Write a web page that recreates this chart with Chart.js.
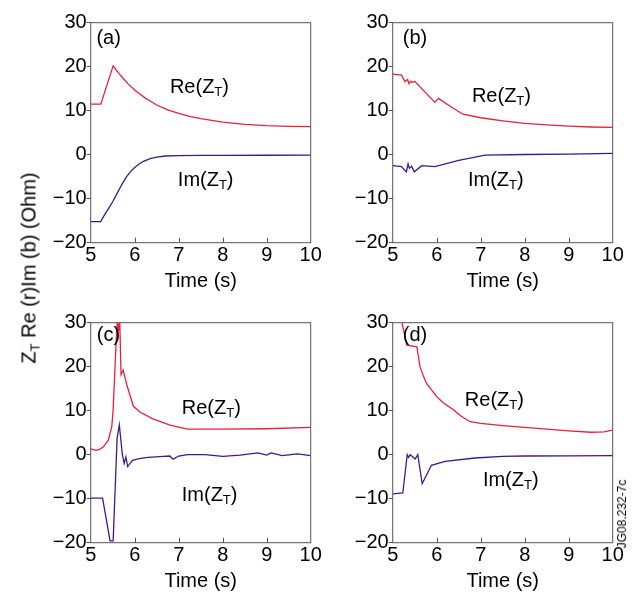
<!DOCTYPE html>
<html>
<head>
<meta charset="utf-8">
<script src="https://cdn.jsdelivr.net/npm/chart.js@4/dist/chart.umd.min.js"></script>
<style>
  html, body { margin: 0; padding: 0; background: #fff; }
  #wrap { position: relative; width: 641px; height: 599px; overflow: hidden; font-family: "Liberation Sans", Arial, sans-serif; color: #000; }
  #wrap canvas { position: absolute; left: 0; top: 0; }
  .ytitle { position: absolute; left: 29px; top: 268px; font-size: 20px; white-space: nowrap; transform: translate(-50%, -50%) rotate(-90deg); }
  .ytitle sub { font-size: 13px; vertical-align: -4px; line-height: 0; }
  .stamp { position: absolute; left: 622px; top: 514px; font-size: 12px; white-space: nowrap; transform: translate(-50%, -50%) rotate(-90deg); }
</style>
</head>
<body>
<div id="wrap">
  <canvas id="pa" width="641" height="599"></canvas>
  <canvas id="pb" width="641" height="599"></canvas>
  <canvas id="pc" width="641" height="599"></canvas>
  <canvas id="pd" width="641" height="599"></canvas>
  <div class="ytitle">Z<sub>T</sub> Re (r)Im (b) (Ohm)</div>
  <div class="stamp">JG08.232-7c</div>
</div>
<script>
// valeurs (temps en s, impedance en Ohm)
const xTicks = [5, 6, 7, 8, 9, 10];
const yTicks = [-20, -10, 0, 10, 20, 30];
const panelLabels = ['(a)', '(b)', '(c)', '(d)'];

const timeReA = [5, 5.23, 5.51, 5.6, 5.65, 5.75, 5.85, 6, 6.1, 6.25, 6.35, 6.5, 6.75, 7, 7.25, 7.5, 8, 8.5, 9, 9.5, 10];
const reA     = [11.5, 11.5, 20.2, 19.0, 18.35, 17.2, 16.1, 14.7, 13.9, 12.8, 12.2, 11.3, 10.2, 9.4, 8.7, 8.2, 7.4, 6.9, 6.6, 6.45, 6.4];
const timeImA = [5, 5.23, 5.3, 5.4, 5.5, 5.6, 5.7, 5.8, 5.9, 6, 6.1, 6.2, 6.35, 6.5, 6.7, 7, 7.5, 8, 9, 10];
const imA     = [-15.2, -15.2, -13.9, -12.3, -10.7, -8.8, -6.9, -5.2, -3.9, -2.9, -2.1, -1.5, -0.9, -0.55, -0.3, -0.2, -0.15, -0.15, -0.12, -0.1];

const timeReB = [5, 5.2, 5.28, 5.34, 5.37, 5.41, 5.44, 5.5, 5.96, 6.04, 6.34, 6.6, 7, 7.5, 8, 8.5, 9, 9.5, 10];
const reB     = [18.3, 18.1, 16.6, 17.1, 16.1, 16.7, 16.4, 16.7, 11.9, 12.8, 10.8, 9.2, 8.4, 7.7, 7.1, 6.8, 6.5, 6.3, 6.2];
const timeImB = [5, 5.2, 5.31, 5.35, 5.38, 5.43, 5.49, 5.66, 5.96, 6.5, 7.1, 8, 9, 10];
const imB     = [-2.5, -2.7, -3.9, -2.1, -3.1, -2.6, -3.9, -2.5, -2.7, -1.3, -0.1, 0.05, 0.15, 0.3];

const timeReC = [5, 5.12, 5.2, 5.29, 5.4, 5.48, 5.51, 5.55, 5.59, 5.61, 5.63, 5.66, 5.69, 5.74, 5.78, 5.82, 5.97, 6.12, 6.4, 6.8, 7.2, 8, 9, 10];
const reC     = [1.3, 1.0, 1.2, 1.8, 3.3, 6.4, 10.2, 19.3, 28.3, 30.5, 28, 30.5, 18.2, 19.2, 17.5, 15.9, 11, 9.7, 8.2, 6.7, 5.8, 5.8, 5.9, 6.2];
const timeImC = [5, 5.27, 5.44, 5.51, 5.6, 5.65, 5.72, 5.76, 5.8, 5.84, 5.95, 6.1, 6.3, 6.57, 6.8, 6.87, 7.0, 7.2, 7.6, 8.0, 8.4, 8.8, 9.0, 9.1, 9.35, 9.7, 10];
const imC     = [-9.85, -9.85, -19.6, -19.6, 3.7, 6.75, 0, -2, -0.5, -2.7, -1.3, -0.9, -0.6, -0.45, -0.3, -1.0, -0.3, 0, 0, -0.4, -0.1, 0.4, -0.1, 0.4, -0.2, 0.2, -0.2];

const timeReD = [5.19, 5.32, 5.55, 5.62, 5.7, 5.77, 5.9, 6.0, 6.15, 6.38, 6.55, 6.76, 7, 7.5, 8, 8.5, 9, 9.5, 9.8, 10];
const reD     = [31, 24.9, 24.5, 20.0, 17.8, 16.2, 14.5, 13.2, 11.8, 10.2, 8.8, 7.5, 7.1, 6.6, 6.2, 5.8, 5.4, 5.1, 5.2, 5.6];
const timeImD = [5, 5.23, 5.33, 5.36, 5.4, 5.51, 5.57, 5.67, 5.88, 6.19, 6.87, 7.5, 8, 9, 10];
const imD     = [-8.9, -8.7, 0, -0.6, 0, -1, 0, -6.6, -2.4, -1.5, -0.75, -0.4, -0.3, -0.25, -0.2];

const RED = '#e8203a', PURPLE = '#3c1a8c', FRAME = '#555';
const FONT = '"Liberation Sans", Arial, sans-serif';
const Y_W = 50, X_H = 51;

Chart.defaults.color = '#000';
Chart.defaults.font.family = FONT;

const pts = (t, v) => t.map((x, i) => ({ x: x, y: v[i] }));

function drawZ(ctx, x, y, prefix) {
  ctx.textAlign = 'left';
  ctx.textBaseline = 'middle';
  ctx.font = '20px ' + FONT;
  const head = prefix + '(Z';
  ctx.fillText(head, x, y);
  let w = ctx.measureText(head).width;
  ctx.font = '13px ' + FONT;
  ctx.fillText('T', x + w, y + 5);
  w += ctx.measureText('T').width;
  ctx.font = '20px ' + FONT;
  ctx.fillText(')', x + w, y);
}

// cadre, graduations internes en x, etiquettes
const decor = {
  id: 'decor',
  afterDraw(chart, args, o) {
    const { ctx, chartArea: a, scales } = chart;
    ctx.save();
    ctx.strokeStyle = FRAME;
    ctx.lineWidth = 1;
    ctx.strokeRect(a.left, a.top, a.right - a.left, a.bottom - a.top);
    xTicks.slice(1, -1).forEach((v) => {
      const px = Math.round(scales.x.getPixelForValue(v)) + 0.5;
      ctx.beginPath(); ctx.moveTo(px, a.bottom); ctx.lineTo(px, a.bottom - 5); ctx.stroke();
    });
    ctx.fillStyle = '#000';
    ctx.textAlign = 'left'; ctx.textBaseline = 'middle';
    ctx.font = '20px ' + FONT;
    ctx.fillText(o.label, scales.x.getPixelForValue(o.labelAt[0]), scales.y.getPixelForValue(o.labelAt[1]));
    drawZ(ctx, scales.x.getPixelForValue(o.reAt[0]), scales.y.getPixelForValue(o.reAt[1]), 'Re');
    drawZ(ctx, scales.x.getPixelForValue(o.imAt[0]), scales.y.getPixelForValue(o.imAt[1]), 'Im');
    ctx.restore();
  }
};

function panel(id, area, tRe, re, tIm, im, deco) {
  return new Chart(document.getElementById(id), {
    type: 'line',
    data: {
      datasets: [
        { label: 'Re', data: pts(tRe, re), borderColor: RED, borderWidth: 1.3, pointRadius: 0, tension: 0 },
        { label: 'Im', data: pts(tIm, im), borderColor: PURPLE, borderWidth: 1.3, pointRadius: 0, tension: 0 },
      ],
    },
    options: {
      responsive: false, animation: false, events: [],
      layout: { padding: { left: area.l - Y_W, top: area.t, right: 641 - area.r, bottom: 599 - area.b - X_H } },
      plugins: { legend: { display: false }, tooltip: { enabled: false }, decor: deco },
      scales: {
        x: {
          type: 'linear', min: 5, max: 10,
          afterBuildTicks: (s) => { s.ticks = xTicks.map((v) => ({ value: v })); },
          ticks: { font: { size: 20 }, padding: 1, maxRotation: 0, autoSkip: false },
          grid: { drawOnChartArea: false, drawTicks: false },
          border: { display: false },
          title: { display: true, text: 'Time (s)', font: { size: 20 }, padding: 0 },
          afterFit: (s) => { s.height = X_H; },
        },
        y: {
          type: 'linear', min: -20, max: 30,
          afterBuildTicks: (s) => { s.ticks = yTicks.map((v) => ({ value: v })); },
          ticks: { font: { size: 20 }, padding: 0, callback: (v) => String(v).replace('-', '\u2212') },
          grid: { drawOnChartArea: false, drawTicks: true, tickLength: 4, color: FRAME },
          border: { display: false },
          afterFit: (s) => { s.width = Y_W; },
        },
      },
    },
    plugins: [decor],
  });
}

panel('pa', { l: 90.7, t: 22.7, r: 310.7, b: 242.7 }, timeReA, reA, timeImA, imA,
  { label: panelLabels[0], labelAt: [5.13, 26.5], reAt: [6.8, 15.2], imAt: [6.98, -5.75] });
panel('pb', { l: 392.7, t: 22.7, r: 612.7, b: 242.7 }, timeReB, reB, timeImB, imB,
  { label: panelLabels[1], labelAt: [5.23, 26.5], reAt: [6.8, 13.2], imAt: [6.71, -5.75] });
panel('pc', { l: 90.7, t: 322.7, r: 310.7, b: 542.7 }, timeReC, reC, timeImC, imC,
  { label: panelLabels[2], labelAt: [5.14, 27.2], reAt: [7.07, 10.5], imAt: [7.07, -9.2] });
panel('pd', { l: 392.7, t: 322.7, r: 612.7, b: 542.7 }, timeReD, reD, timeImD, imD,
  { label: panelLabels[3], labelAt: [5.23, 27.2], reAt: [6.64, 12.4], imAt: [7.05, -5.75] });
</script>
</body>
</html>
